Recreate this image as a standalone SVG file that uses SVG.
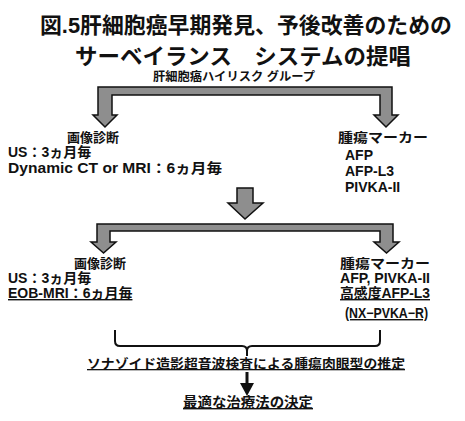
<svg xmlns="http://www.w3.org/2000/svg" width="465" height="421" viewBox="0 0 465 421">
<style>
text{font-family:"Liberation Sans","Noto Sans CJK JP",sans-serif;font-weight:bold;fill:#111}
.t{font-size:22px}
.h{font-size:13px}
.b{font-size:14px}
.u{text-decoration:underline}
.g{fill:#8e8e8e;stroke:#111;stroke-width:1.5;stroke-linejoin:miter}
.ln{fill:none;stroke:#111;stroke-width:2}
</style>
<rect width="465" height="421" fill="#fff"/>
<g id="title">
<text class="t" x="246" y="33" text-anchor="middle" textLength="412" lengthAdjust="spacingAndGlyphs">図.5肝細胞癌早期発見、予後改善のための</text>
<text class="t" x="243" y="64" text-anchor="middle" textLength="336" lengthAdjust="spacingAndGlyphs">サーベイランス　システムの提唱</text>
</g>
<g id="high-risk">
<text x="234" y="81" text-anchor="middle" style="font-size:12px" textLength="162" lengthAdjust="spacingAndGlyphs">肝細胞癌ハイリスク グループ</text>
</g>
<g id="connectors">
<path class="g" d="M105,127 L93,115 L98,115 L98,87 L392,87 L392,115 L398,115 L386,127 L374,115 L380,115 L380,95 L112,95 L112,115 L117,115 Z"/>
<path class="g" d="M245,219 L228,203 L237,203 L237,188 L253,188 L253,203 L263,203 Z"/>
<path class="g" d="M103.5,253 L91,242 L97,242 L97,224 L393,224 L393,242 L399,242 L386.5,253 L374,242 L380,242 L380,231 L110,231 L110,242 L116,242 Z"/>
<path class="ln" d="M115,330 V341 Q115,346 120,346 H242 Q247,346 247,351 V356 M247,351 Q247,346 252,346 H375 Q380,346 380,341 V330"/>
<line class="ln" x1="247" y1="372" x2="247" y2="388" style="stroke-width:3"/>
<path d="M240,383 L254,383 L247,396 Z" fill="#111"/>
</g>
<g id="imaging1">
<text class="h" x="93" y="142" text-anchor="middle">画像診断</text>
<text class="b" x="8" y="157">US：3ヵ月毎</text>
<text class="b" x="8" y="173" textLength="214" lengthAdjust="spacingAndGlyphs">Dynamic CT or MRI：6ヵ月毎</text>
</g>
<g id="marker1">
<text class="h" x="338" y="142" textLength="90" lengthAdjust="spacingAndGlyphs">腫瘍マーカー</text>
<text class="b" x="345" y="160">AFP</text>
<text class="b" x="345" y="176">AFP-L3</text>
<text class="b" x="345" y="192">PIVKA-II</text>
</g>
<g id="imaging2">
<text class="h" x="100" y="268" text-anchor="middle">画像診断</text>
<text class="b" x="8" y="283">US：3ヵ月毎</text>
<text class="b u" x="8" y="298">EOB-MRI：6ヵ月毎</text>
</g>
<g id="marker2">
<text class="h" x="340" y="268" textLength="90" lengthAdjust="spacingAndGlyphs">腫瘍マーカー</text>
<text class="b" x="340" y="283" textLength="90" lengthAdjust="spacingAndGlyphs">AFP, PIVKA-II</text>
<text class="b u" x="340" y="298" textLength="90" lengthAdjust="spacingAndGlyphs">高感度AFP-L3</text>
<text class="b u" x="345" y="318" textLength="83" lengthAdjust="spacingAndGlyphs">(NX−PVKA−R)</text>
</g>
<g id="sonazoid">
<text class="h u" x="246" y="368" text-anchor="middle" textLength="318" lengthAdjust="spacingAndGlyphs">ソナゾイド造影超音波検査による腫瘍肉眼型の推定</text>
</g>
<g id="treatment">
<text class="b u" x="248" y="407" text-anchor="middle" textLength="130" lengthAdjust="spacingAndGlyphs">最適な治療法の決定</text>
</g>
</svg>
